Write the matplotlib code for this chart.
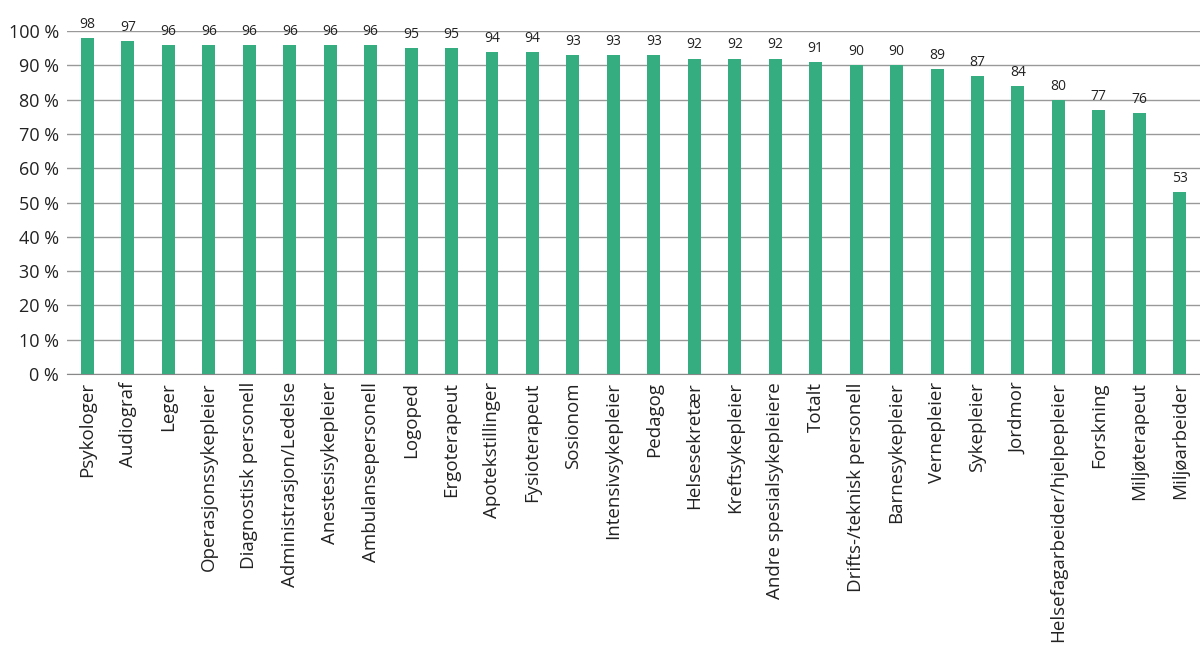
import numpy as np
import matplotlib.pyplot as plt

# -----------------------------
# DATA
# -----------------------------
categories = [
    "Psykologer", "Audiograf", "Leger", "Operasjonssykepleier",
    "Diagnostisk personell", "Administrasjon/Ledelse", "Anestesisykepleier",
    "Ambulansepersonell", "Logoped", "Ergoterapeut", "Apotekstillinger",
    "Fysioterapeut", "Sosionom", "Intensivsykepleier", "Pedagog",
    "Helsesekretær", "Kreftsykepleier", "Andre spesialsykepleiere", "Totalt",
    "Drifts-/teknisk personell", "Barnesykepleier", "Vernepleier", "Sykepleier",
    "Jordmor", "Helsefagarbeider/hjelpepleier", "Forskning", "Miljøterapeut",
    "Miljøarbeider",
]
values = [98, 97, 96, 96, 96, 96, 96, 96, 95, 95, 94, 94, 93, 93, 93,
          92, 92, 92, 91, 90, 90, 89, 87, 84, 80, 77, 76, 53]
yticks = [0, 10, 20, 30, 40, 50, 60, 70, 80, 90, 100]

# -----------------------------
# PLOT
# -----------------------------
plt.rcParams['font.family'] = ['Open Sans', 'DejaVu Sans']
fig = plt.figure(figsize=(12, 6.64), dpi=100)
ax = fig.add_axes([0.056, 0.437, 0.944, 0.516])

x = np.arange(len(categories))
ax.bar(x, values, width=0.32, color="#35ad80", zorder=3)

for xi, v in zip(x, values):
    ax.text(xi, v + 1.8, str(v), ha="center", va="bottom", fontsize=10, color="#222222")

ax.set_xlim(-0.5, len(categories) - 0.5)
ax.set_ylim(0, 100)
ax.set_yticks(yticks)
ax.set_yticklabels([f"{t} %" for t in yticks], fontsize=13)
ax.set_xticks(x)
ax.set_xticklabels(categories, rotation=90, fontsize=13.5)
ax.tick_params(axis="both", length=0, pad=6, colors="#222222")
ax.yaxis.grid(True, color="#999999", linewidth=1, zorder=0)
for s in ["top", "right", "left"]:
    ax.spines[s].set_visible(False)
ax.spines["bottom"].set_color("#888888")

fig.savefig("out.png", dpi=100)
